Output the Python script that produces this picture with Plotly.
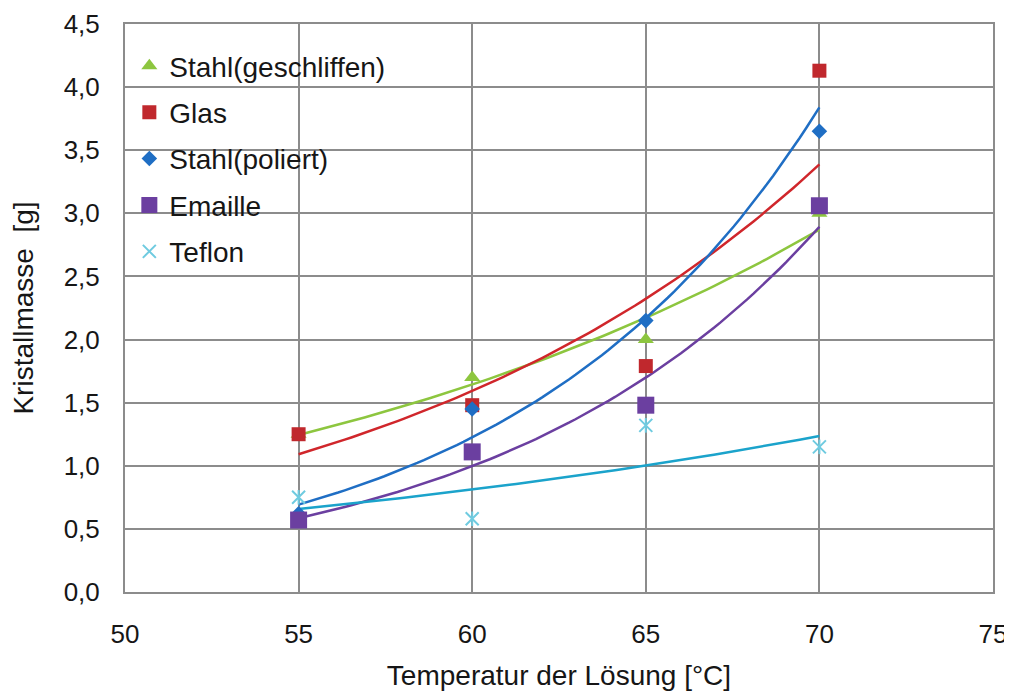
import numpy as np
import plotly.graph_objects as go

temps = [55, 60, 65, 70]
stahl_geschliffen = [1.25, 1.70, 2.00, 3.00]
glas = [1.25, 1.48, 1.79, 4.13]
stahl_poliert = [0.62, 1.45, 2.15, 3.65]
emaille = [0.57, 1.11, 1.48, 3.06]
teflon = [0.75, 0.58, 1.32, 1.15]

x_ticks = [50, 55, 60, 65, 70, 75]
y_ticks = [0, 0.5, 1, 1.5, 2, 2.5, 3, 3.5, 4, 4.5]

series = [
    ("Stahl(geschliffen)", stahl_geschliffen, "#8DC63F", "#8DC63F", "triangle-up", 14),
    ("Glas", glas, "#C0282D", "#D0262B", "square", 14),
    ("Stahl(poliert)", stahl_poliert, "#1F6EC4", "#1F6EC4", "diamond", 12),
    ("Emaille", emaille, "#6B3FA0", "#6B3FA0", "square", 17),
    ("Teflon", teflon, "#6FCBE0", "#1BA3CB", "x-thin-open", 13),
]

FONT = "Liberation Sans, Arial, sans-serif"
TXT = "#161616"
fig = go.Figure()

# exponential trendlines (least squares on log values)
xs = np.linspace(min(temps), max(temps), 80)
for name, vals, mcol, lcol, sym, size in series:
    b, a = np.polyfit(temps, np.log(vals), 1)
    fig.add_trace(go.Scatter(x=xs, y=np.exp(a + b * xs), mode="lines",
                             line=dict(color=lcol, width=2.5),
                             showlegend=False, hoverinfo="skip"))

for i, (name, vals, mcol, lcol, sym, size) in enumerate(series):
    if sym.endswith("-open"):
        marker = dict(symbol=sym, size=size, color=mcol, line=dict(color=mcol, width=2))
        # vertical stroke of the star marker
        fig.add_trace(go.Scatter(x=temps, y=vals, mode="markers", legendgroup=f"g{i}",
                                 showlegend=False, hoverinfo="skip",
                                 marker=dict(symbol="line-ns-open", size=size * 0.8,
                                             color=mcol, line=dict(color=mcol, width=2))))
    else:
        marker = dict(symbol=sym, size=size, color=mcol, line=dict(width=0))
    fig.add_trace(go.Scatter(x=temps, y=vals, mode="markers", name=name,
                             marker=marker, legendgroup=f"g{i}"))

axis_common = dict(showgrid=True, gridcolor="#8c8c8c", gridwidth=2,
                   showline=True, linecolor="#8c8c8c", linewidth=2, mirror=True,
                   zeroline=False, ticks="", automargin=False,
                   ticklabeloverflow="allow",
                   tickfont=dict(family=FONT, size=26, color=TXT))

fig.update_layout(
    width=1012, height=698,
    margin=dict(l=117, r=27, t=16, b=114),
    paper_bgcolor="white", plot_bgcolor="white",
    font=dict(family=FONT, color=TXT),
    xaxis=dict(range=[50, 75], tickvals=x_ticks, ticktext=[str(v) for v in x_ticks],
               ticklabelstandoff=18,
               title=dict(text="Temperatur der Lösung [°C]", font=dict(size=28, color=TXT), standoff=17),
               **axis_common),
    yaxis=dict(range=[0, 4.5], tickvals=y_ticks,
               ticktext=[f"{v:.1f}".replace(".", ",") for v in y_ticks],
               ticklabelstandoff=18,
               title=dict(text="Kristallmasse  [g]", font=dict(size=28, color=TXT), standoff=22),
               **axis_common),
    legend=dict(x=0.005, y=0.97, xanchor="left", yanchor="top",
                bgcolor="rgba(255,255,255,0)", font=dict(family=FONT, size=28, color=TXT),
                tracegroupgap=7, itemwidth=30),
    showlegend=True,
)

fig.write_html("out.html")
